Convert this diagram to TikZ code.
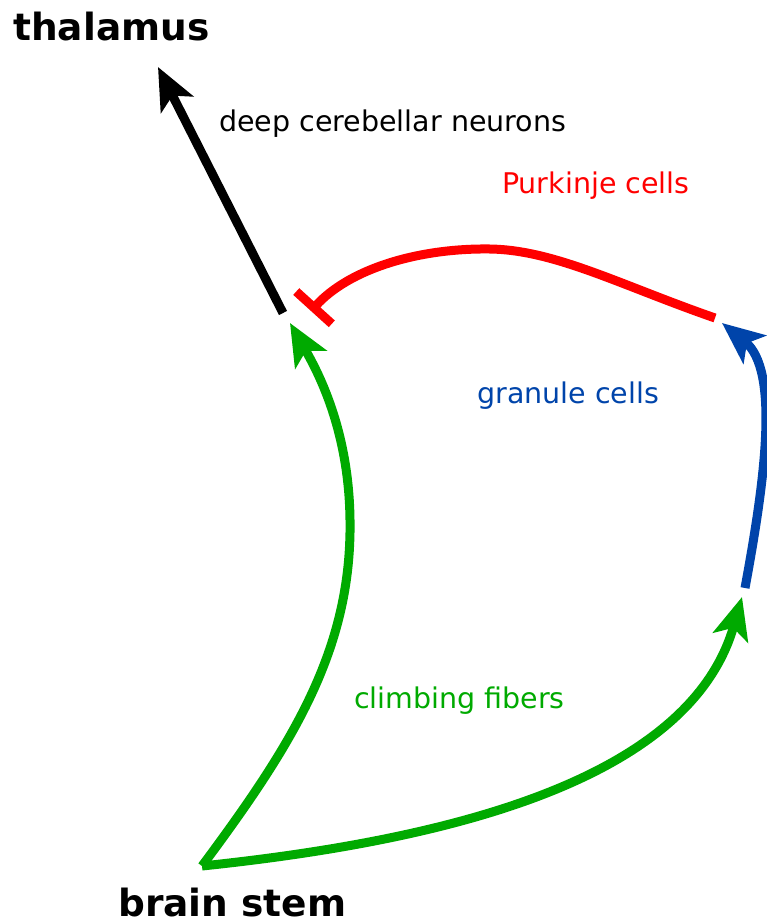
\documentclass[tikz,border=0pt]{standalone}
\usepackage{fontspec}
\setmainfont{DejaVu Sans}
\usepackage{tikz}
\usetikzlibrary{arrows.meta}
\definecolor{nred}{HTML}{FF0000}
\definecolor{nblue}{HTML}{0044AA}
\definecolor{ngreen}{HTML}{00AA00}

\begin{document}
\begin{tikzpicture}[x=1pt,y=-1pt,
  lbl/.style={anchor=base west,inner sep=0pt,font=\fontsize{28.5}{34}\selectfont},
  big/.style={anchor=base west,inner sep=0pt,font=\fontsize{37.5}{44}\selectfont\bfseries},
  fib/.style={line width=9pt},
  tip/.style={-{Stealth[length=42pt,width=36pt,inset=10pt]}}]
 \useasboundingbox (0,0) rectangle (767,924);
 % labels
 \node[big] (thal) at (13,40) {thalamus};
 \node[big] (stem) at (118,916) {brain stem};
 \node[lbl] (dcn) at (219,131) {deep cerebellar neurons};
 \node[lbl,text=nred] (pc) at (502,193) {Purkinje cells};
 \node[lbl,text=nblue] (gc) at (477,403) {granule cells};
 \node[lbl,text=ngreen] (cf) at (354,708) {climbing fibers};
 % end points of the fibers
 \coordinate (bs) at (202,866);
 \coordinate (nuc) at (283,313);
 \coordinate (out) at (158,67);
 \coordinate (inh) at (311,311);
 \coordinate (pcs) at (715,318);
 \coordinate (gcs) at (745,588);
 \coordinate (gct) at (722,323);
 \coordinate (cft) at (290,323);
 \coordinate (gcin) at (742,597);
 % pathways
 \draw[fib,tip] (nuc) -- (out);
 \draw[fib,nred,-{Bar[width=48pt]}] (pcs) .. controls (620,285) and (555,250) .. (490,249)
   .. controls (420,248) and (350,268) .. (inh);
 \draw[fib,nblue,tip] (gcs) .. controls (765,480) and (780,370) .. (gct);
 \draw[fib,ngreen,tip] (bs) .. controls (292,745) and (352,650) .. (350,520)
   .. controls (349,430) and (318,372) .. (cft);
 \draw[fib,ngreen,tip] (bs) .. controls (450,840) and (690,780) .. (gcin);
\end{tikzpicture}
\end{document}
